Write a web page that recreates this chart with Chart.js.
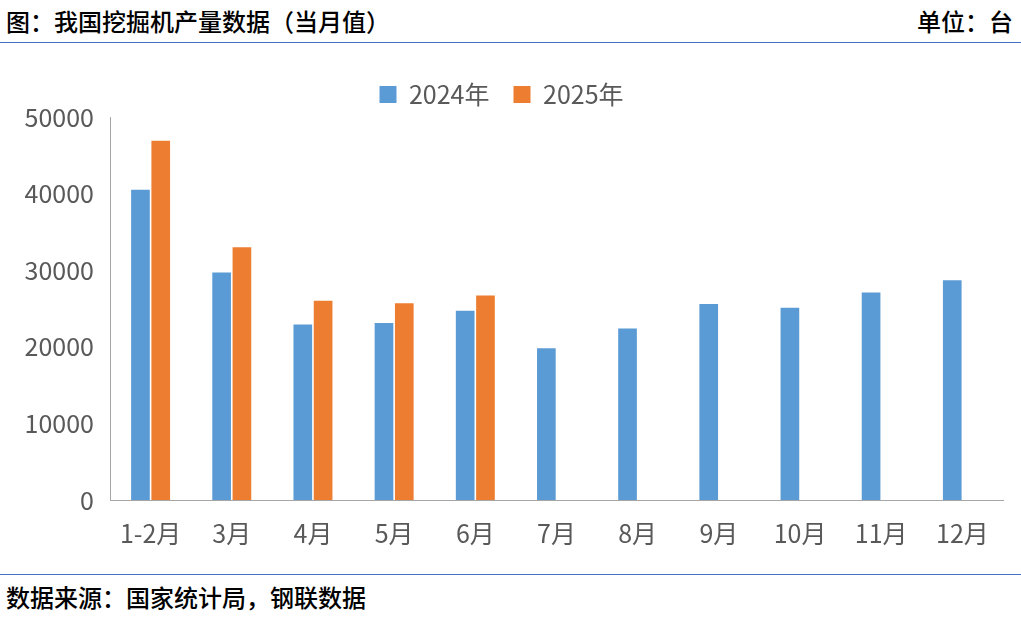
<!DOCTYPE html>
<html><head><meta charset="utf-8">
<script src="https://cdn.jsdelivr.net/npm/chart.js@4"></script>
<style>
body{margin:0;width:1021px;height:617px;background:#fff;font-family:"Noto Sans CJK SC";position:relative;overflow:hidden}
.t{position:absolute;font-size:24px;line-height:30px;color:#000;font-weight:500}
.line{position:absolute;left:0;width:1021px;height:1px;background:#4472c4}
#wrap{position:absolute;left:0;top:50px;width:1021px;height:520px}
</style></head><body>
<div class="t" style="left:6px;top:6px">图：我国挖掘机产量数据（当月值）</div>
<div class="t" style="right:8px;top:6px">单位：台</div>
<div class="line" style="top:42px"></div>
<div class="line" style="top:574px"></div>
<div class="t" style="left:6px;top:582px">数据来源：国家统计局，钢联数据</div>
<div id="wrap"><canvas id="c"></canvas></div>
<script>
const categories=["1-2月","3月","4月","5月","6月","7月","8月","9月","10月","11月","12月"];
const series2024=[40500,29700,22900,23100,24700,19800,22400,25600,25100,27100,28700];
const series2025=[46900,33000,26000,25700,26700,null,null,null,null,null,null];
const yTicks=[0,10000,20000,30000,40000,50000];
const tickFont={family:"Noto Sans CJK SC",size:25};
new Chart(document.getElementById('c'),{type:'bar',
data:{labels:categories,datasets:[
{label:'2024年',data:series2024,backgroundColor:'#5b9bd5'},
{label:'2025年',data:series2025,backgroundColor:'#ed7d31'}]},
options:{responsive:true,maintainAspectRatio:false,animation:false,
layout:{padding:{right:18,top:8}},
plugins:{legend:{labels:{font:tickFont,color:'#595959',boxWidth:17,boxHeight:17,padding:24}},tooltip:{enabled:false}},
datasets:{bar:{categoryPercentage:0.5,barPercentage:0.92}},
scales:{
x:{grid:{display:false,drawTicks:false},border:{color:'#a6a6a6'},ticks:{font:tickFont,color:'#595959',padding:18},
 afterFit(s){s.height=70;}},
y:{min:0,max:50000,afterBuildTicks(s){s.ticks=yTicks.map(v=>({value:v}));},
 grid:{display:false,drawTicks:false},border:{color:'#a6a6a6'},
 ticks:{font:tickFont,color:'#595959',padding:16,callback:v=>String(v)},afterFit(s){s.width=110;}}}}});
</script></body></html>
